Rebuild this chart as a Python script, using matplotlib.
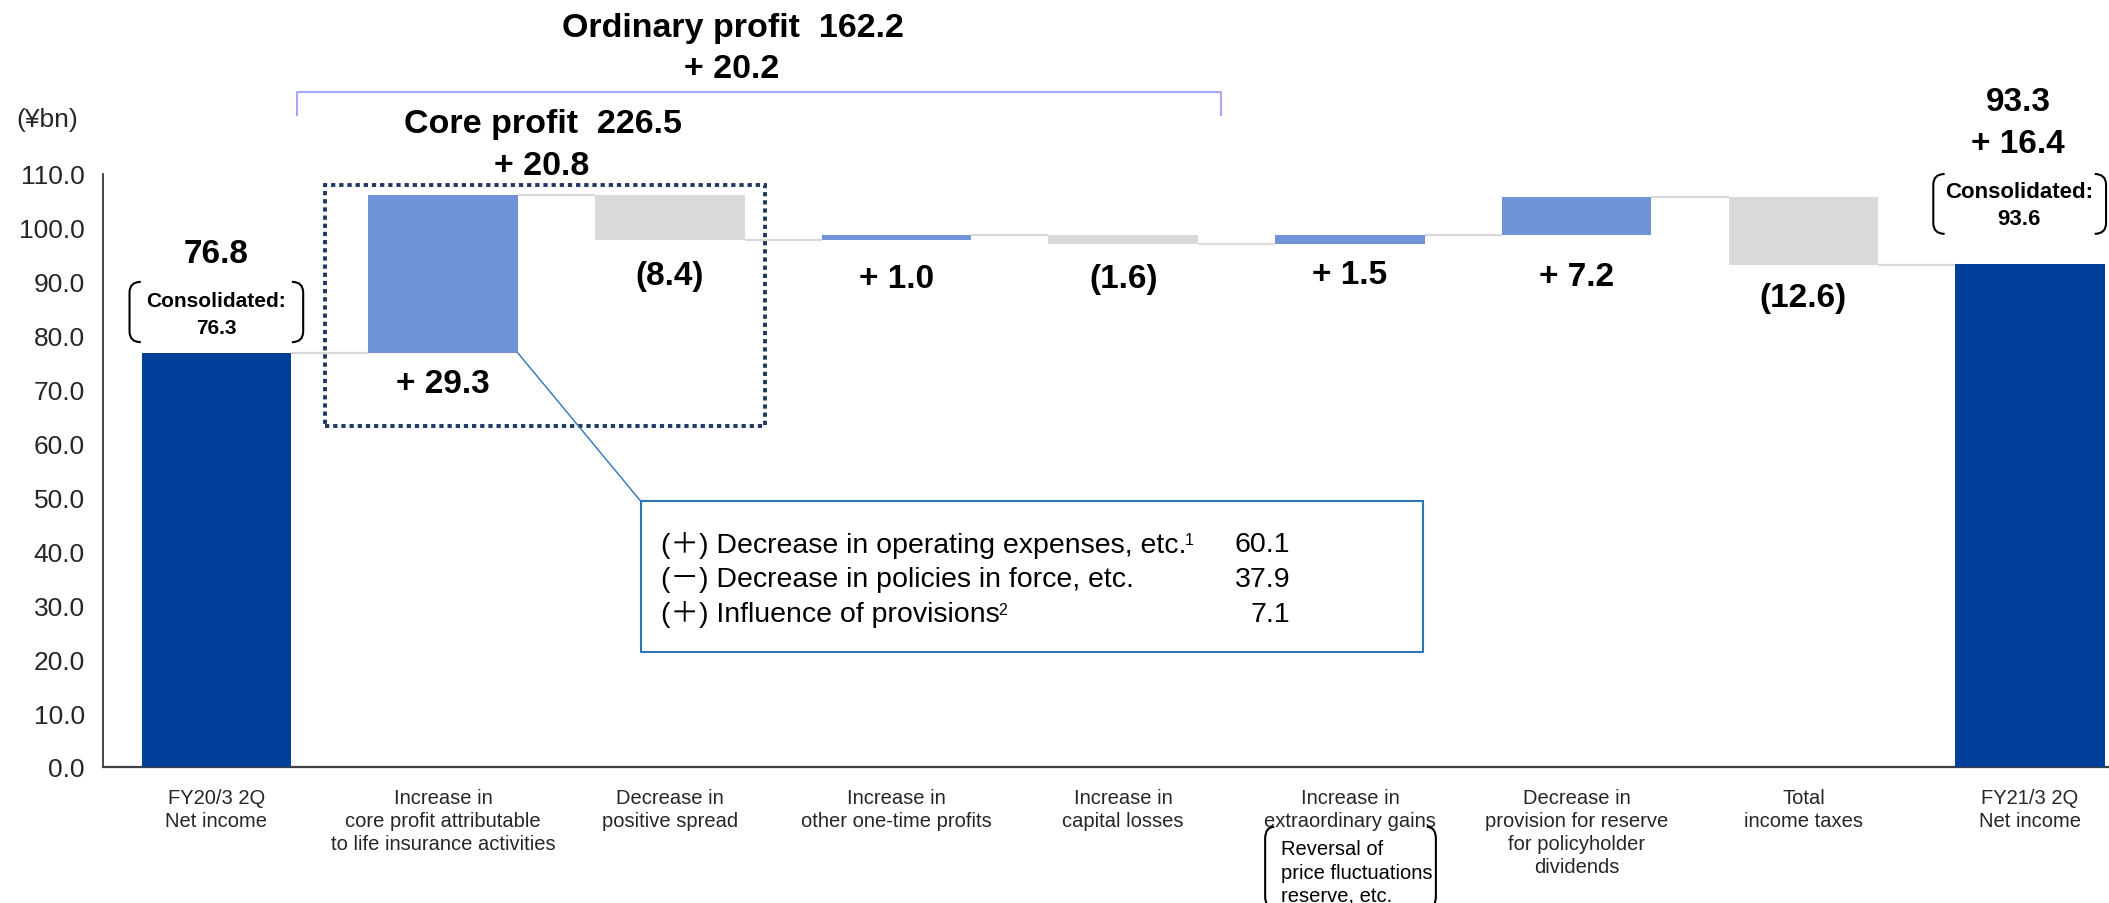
import matplotlib
matplotlib.use('Agg')
import matplotlib.pyplot as plt
from matplotlib.path import Path
from matplotlib.patches import PathPatch, Rectangle

plt.rcParams['font.family'] = ['Liberation Sans', 'Noto Sans CJK JP', 'DejaVu Sans']

# ---------------- data ----------------
categories = [
    "FY20/3 2Q\nNet income",
    "Increase in\ncore profit attributable\nto life insurance activities",
    "Decrease in\npositive spread",
    "Increase in\nother one-time profits",
    "Increase in\ncapital losses",
    "Increase in\nextraordinary gains",
    "Decrease in\nprovision for reserve\nfor policyholder\ndividends",
    "Total\nincome taxes",
    "FY21/3 2Q\nNet income",
]
start_value = 76.8
deltas = [29.3, -8.4, 1.0, -1.6, 1.5, 7.2, -12.6]
end_value = 93.3
end_change = 16.4
consolidated_start = 76.3
consolidated_end = 93.6
ordinary_profit = 162.2
ordinary_change = 20.2
core_profit = 226.5
core_change = 20.8
detail_items = ["(＋) Decrease in operating expenses, etc.",
                "(－) Decrease in policies in force, etc.",
                "(＋) Influence of provisions"]
detail_notes = ["1", "", "2"]
detail_values = [60.1, 37.9, 7.1]
yticks = [0, 10, 20, 30, 40, 50, 60, 70, 80, 90, 100, 110]

# label gaps below each change bar (value units)
label_gap = [5.6, 6.6, 7.0, 6.4, 5.7, 7.6, 6.2]

DARK = '#00409A'
UP = '#7092D6'
DOWN = '#D9D9D9'
TXT = '#000000'

W, H = 2109, 904
fig = plt.figure(figsize=(W / 100, H / 100), dpi=100)
ax = fig.add_axes([103 / W, 1 - 768 / H, 1 - 103 / W, (768 - 175) / H])
ax.set_xlim(-0.5, 8.348)
ax.set_ylim(0, 110)

bw = 0.66
ax.bar(0, start_value, width=bw, color=DARK, zorder=3)
levels = [start_value]
level = start_value
for i, d in enumerate(deltas, start=1):
    bottom = level if d > 0 else level + d
    ax.bar(i, abs(d), bottom=bottom, width=bw, color=UP if d > 0 else DOWN, zorder=3)
    lab = f'+ {d:.1f}' if d > 0 else f'({-d:.1f})'
    ax.text(i, bottom - label_gap[i - 1], lab, ha='center', va='center', fontsize=24,
            fontweight='bold', color=TXT, zorder=5)
    level += d
    levels.append(level)
ax.bar(8, end_value, width=bw, color=DARK, zorder=3)

for i in range(8):
    ax.plot([i + bw / 2, i + 1 - bw / 2], [levels[i], levels[i]],
            color='#D9D9D9', lw=1.6, zorder=2, solid_capstyle='butt')

for s in ['top', 'right']:
    ax.spines[s].set_visible(False)
ax.spines['left'].set_color('#262626')
ax.spines['left'].set_linewidth(1.2)
ax.spines['bottom'].set_color('#404040')
ax.spines['bottom'].set_linewidth(1.6)
ax.set_yticks(yticks)
ax.set_yticklabels([f'{v:.1f}' for v in yticks], fontsize=19, color='#262626')
ax.tick_params(axis='y', length=0, pad=13)
ax.set_xticks(range(len(categories)))
ax.set_xticklabels(categories, fontsize=14.5, color='#262626', linespacing=1.27)
ax.tick_params(axis='x', length=0, pad=15)

ax.text(-0.744, 120.2, '(¥bn)', ha='center', va='center', fontsize=19,
        color='#262626', clip_on=False)


def paren(x, y0, y1, rx, ry, side, lw=1.5, ec='#000000'):
    s = 1 if side == 'left' else -1
    verts = [(x + s * rx, y1), (x, y1), (x, y1 - ry), (x, y0 + ry), (x, y0), (x + s * rx, y0)]
    codes = [Path.MOVETO, Path.CURVE3, Path.CURVE3, Path.LINETO, Path.CURVE3, Path.CURVE3]
    ax.add_patch(PathPatch(Path(verts, codes), fill=False, clip_on=False,
                           lw=lw, ec=ec, zorder=6))


# start bar annotations
ax.text(0, 95.3, f'{start_value:.1f}', ha='center', va='center', fontsize=24,
        fontweight='bold', color=TXT)
ax.text(0, 86.6, 'Consolidated:', ha='center', va='center',
        fontsize=15, fontweight='bold', color=TXT)
ax.text(0, 81.6, f'{consolidated_start:.1f}', ha='center', va='center',
        fontsize=15, fontweight='bold', color=TXT)
paren(-0.383, 78.8, 90.0, 0.05, 2.0, 'left')
paren(0.383, 78.8, 90.0, 0.05, 2.0, 'right')

# end bar annotations
ax.text(7.947, 123.4, f'{end_value:.1f}', ha='center', va='center',
        fontsize=24, fontweight='bold', color=TXT, clip_on=False)
ax.text(7.947, 115.6, f'+ {end_change:.1f}', ha='center', va='center',
        fontsize=24, fontweight='bold', color=TXT, clip_on=False)
ax.text(7.95, 106.7, 'Consolidated:', ha='center', va='center',
        fontsize=16, fontweight='bold', color=TXT)
ax.text(7.95, 101.7, f'{consolidated_end:.1f}', ha='center', va='center',
        fontsize=16, fontweight='bold', color=TXT)
paren(7.573, 98.9, 110.0, 0.05, 2.0, 'left')
paren(8.335, 98.9, 110.0, 0.05, 2.0, 'right')

# ordinary profit bracket
ax.text(2.278, 137.1, f'Ordinary profit  {ordinary_profit:.1f}', ha='center', va='center',
        fontsize=24.5, fontweight='bold', color=TXT, clip_on=False)
ax.text(2.273, 129.5, f'+ {ordinary_change:.1f}', ha='center', va='center',
        fontsize=24.5, fontweight='bold', color=TXT, clip_on=False)
ax.plot([0.357, 0.357, 4.432, 4.432], [120.9, 125.2, 125.2, 120.9], color='#A6A6FF',
        lw=1.5, clip_on=False, zorder=4)

# core profit box
ax.text(1.44, 119.3, f'Core profit  {core_profit:.1f}', ha='center', va='center',
        fontsize=24.5, fontweight='bold', color=TXT, clip_on=False)
ax.text(1.436, 111.6, f'+ {core_change:.1f}', ha='center', va='center',
        fontsize=24.5, fontweight='bold', color=TXT, clip_on=False)
ax.add_patch(Rectangle((0.480, 63.25), 2.419 - 0.480, 108.0 - 63.25, fill=False,
                       ec='#1F3864', lw=2.8, ls=(0, (1.1, 1.0)), clip_on=False, zorder=6))

# callout
ax.plot([1 + bw / 2, 1.872], [start_value, 49.3], color='#2E75B6', lw=1.0, zorder=6)
ax.add_patch(Rectangle((1.872, 21.3), 5.322 - 1.872, 49.3 - 21.3, fill=True, fc='white',
                       ec='#2E75B6', lw=1.5, zorder=6))
for k, (txt, note, val) in enumerate(zip(detail_items, detail_notes, detail_values)):
    yy = [41.3, 34.8, 28.4][k]
    t = ax.text(1.960, yy, txt, ha='left', va='center', fontsize=20.5, color=TXT, zorder=7)
    if note:
        ax.annotate(note, xy=(1, 1), xycoords=t, xytext=(-1, -1), textcoords='offset points',
                    ha='left', va='top', fontsize=11.5, color=TXT, zorder=7)
    ax.text(4.736, yy, f'{val:.1f}', ha='right', va='center', fontsize=20.5, color=TXT, zorder=7)

# extraordinary gains note
ax.text(4.696, -19.5, 'Reversal of\nprice fluctuations\nreserve, etc.', ha='left', va='center',
        fontsize=14.5, color=TXT, linespacing=1.3, clip_on=False)
paren(4.626, -26.2, -11.1, 0.04, 2.2, 'left')
paren(5.379, -26.2, -11.1, 0.04, 2.2, 'right')

fig.savefig('out.png', dpi=100)
